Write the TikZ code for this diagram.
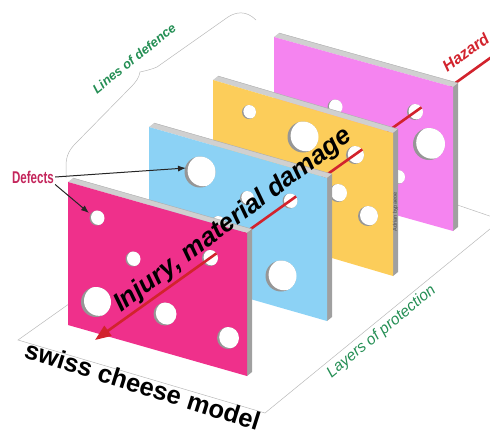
\documentclass[tikz,border=0pt]{standalone}
\usepackage{fontspec}
\setmainfont{Liberation Sans}
\usetikzlibrary{arrows.meta,calc}
\definecolor{frontpink}{RGB}{239,48,139}
\definecolor{bluep}{RGB}{140,210,245}
\definecolor{yellowp}{RGB}{252,205,90}
\definecolor{violetp}{RGB}{245,132,240}
\definecolor{hazred}{RGB}{210,35,45}
\definecolor{labgreen}{RGB}{36,142,84}
\definecolor{defred}{RGB}{196,38,92}
\definecolor{topgray}{RGB}{208,208,208}
\definecolor{sidegray}{RGB}{160,160,160}
\definecolor{shadegray}{RGB}{150,150,150}
\tikzset{
  floorline/.style={draw=gray!55, line width=0.5pt},
  redline/.style={draw=hazred, line width=2.6pt},
  defarrow/.style={draw=black!85, line width=1pt, -{Latex[length=8pt,width=6pt]}},
}
\newcommand\panelbox[6]{%
  \fill[topgray] (#1,#2) -- (#3,#4) -- (#3+5,#4-4) -- (#1+5,#2-4) -- cycle;
  \draw[gray!65, line width=0.4pt] (#1+5,#2-4) -- (#3+5,#4-4);
  \fill[sidegray] (#3,#4) -- (#3,#4+#5) -- (#3+5,#4+#5-4) -- (#3+5,#4-4) -- cycle;
  \fill[#6] (#1,#2) -- (#3,#4) -- (#3,#4+#5) -- (#1,#2+#5) -- cycle;
}
\newcommand\cheesehole[3]{%
  \begin{scope}
    \clip (#1,#2) circle (#3pt);
    \fill[shadegray] (#1,#2) circle (#3pt);
    \fill[white] (#1+0.2*#3,#2-0.08*#3) circle (#3pt);
  \end{scope}
}
\begin{document}
\begin{tikzpicture}[x=1pt,y=-1pt]
\useasboundingbox (0,0) rectangle (490,432);
% floor
\draw[floorline] (90,289) -- (18,340) -- (265,413) -- (512,211);
\draw[floorline] (440,199) -- (510,223);
% brace: lines of defence
\draw[floorline] (66,178) -- (66,166) .. controls (66,155) and (70,149) .. (76,143) -- (130,88)
  .. controls (136,82) and (139,78) .. (140,72) .. controls (144,71) and (150,70) .. (157,67)
  -- (228,17) .. controls (236,12) and (246,10) .. (256,20);
% red hazard line coordinates
\coordinate (Pstart) at (512,42.3);
\coordinate (tip) at (95,340);
\coordinate (hp) at (415,112);
\coordinate (hy) at (355,154.6);
\coordinate (hb) at (290,200.8);
\coordinate (hf) at (210,258);
\draw[redline] (Pstart) -- (hp);
% back violet panel
\panelbox{274}{37}{453}{87}{144}{violetp}
\cheesehole{335}{107}{7.5}
\cheesehole{415}{112}{8}
\cheesehole{429}{144}{16}
\cheesehole{398}{177}{7}
\draw[redline] ($(hp)!8pt!(Pstart)$) -- (hy);
% yellow panel
\panelbox{213}{80}{393}{133}{143}{yellowp}
\cheesehole{249}{112}{7}
\cheesehole{303}{137}{15.5}
\cheesehole{355}{155}{9}
\cheesehole{338}{193}{9}
\cheesehole{368}{216}{10}
\node[rotate=90, inner sep=0pt, text=black!70, font=\fontsize{5.5}{6}\selectfont] (credit) at (395.5,212) {Adrian bypaeoe};
\draw[redline] ($(hy)!9pt!(Pstart)$) -- (hb);
% blue panel
\panelbox{149}{127}{327}{178}{143}{bluep}
\cheesehole{200}{172}{15.5}
\cheesehole{247}{198}{7}
\cheesehole{290}{201}{7.5}
\cheesehole{218}{223}{7}
\cheesehole{281}{276}{15.5}
\draw[redline] ($(hb)!7.5pt!(Pstart)$) -- (hf);
% front panel
\panelbox{68}{182}{247}{233}{143}{frontpink}
\cheesehole{97}{218}{7.5}
\cheesehole{133}{259}{7.5}
\cheesehole{96}{302}{15}
\cheesehole{165}{314}{11.5}
\cheesehole{210}{258}{8}
\cheesehole{228}{338}{11}
\draw[redline,-{Triangle[length=16pt,width=12pt]}] ($(hf)!8pt!(Pstart)$) -- (tip);
% labels
\node[rotate=36.8, anchor=base, inner sep=0pt, font=\fontsize{26}{30}\selectfont\bfseries\itshape] (inj) at (237,226) {Injury, material damage};
\node[rotate=-17.5, anchor=base, inner sep=0pt, font=\fontsize{25.5}{30}\selectfont\bfseries] (scm) at (140,394) {swiss cheese model};
\node[rotate=38.8, anchor=base, inner sep=0pt, text=labgreen, font=\fontsize{13}{15}\selectfont\bfseries\itshape] (lod) at (137,62) {Lines of defence};
\node[rotate=39.6, anchor=base, inner sep=0pt, text=labgreen, font=\fontsize{15.5}{18}\selectfont\itshape] (lop) at (384,335) {Layers of protection};
\node[rotate=36, anchor=base, inner sep=0pt, text=hazred, font=\fontsize{16}{18}\selectfont\bfseries\itshape] (haz) at (469,57) {Hazard};
\node[inner sep=1pt, text=defred, font=\fontsize{17}{20}\selectfont\bfseries] (def) at (33,177) {\scalebox{0.68}[1]{Defects}};
\coordinate (da1) at (186,168);
\coordinate (da2) at (89,213);
\draw[defarrow] (def.east) -- (da1);
\draw[defarrow] (def.south east) -- (da2);
\end{tikzpicture}
\end{document}
